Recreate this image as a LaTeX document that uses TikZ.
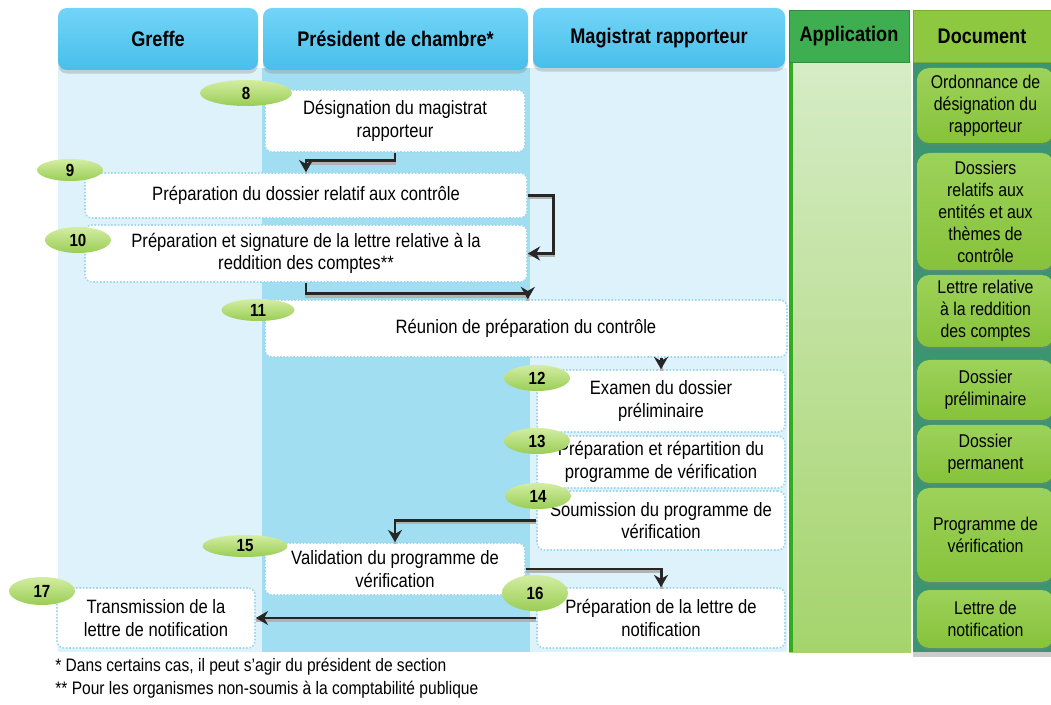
\documentclass[tikz,border=0pt]{standalone}
\usepackage{fontspec}
\setmainfont{Liberation Sans}[FakeStretch=0.86]
\usetikzlibrary{arrows.meta,shapes.geometric,shadows}
\definecolor{laneA}{HTML}{DDF2FA}
\definecolor{laneB}{HTML}{A2DEF2}
\definecolor{headT}{HTML}{72D4F7}
\definecolor{headB}{HTML}{48BFEA}
\definecolor{boxline}{HTML}{9ED6EE}
\definecolor{appT}{HTML}{D6ECC6}
\definecolor{appB}{HTML}{A5D46C}
\definecolor{appHead}{HTML}{3FAE50}
\definecolor{docHead}{HTML}{8DC840}
\definecolor{docBg}{HTML}{3A9570}
\definecolor{docT}{HTML}{9DD25A}
\definecolor{docB}{HTML}{86C23A}
\definecolor{ovalT}{HTML}{D3EDA2}
\definecolor{ovalB}{HTML}{9ACD55}

\begin{document}
\begin{tikzpicture}[x=0.02cm,y=-0.02cm,
  font=\fontsize{11}{12.8}\selectfont,
  sz/.style 2 args={minimum width=#1*0.02cm,minimum height=#2*0.02cm},
  head/.style={rounded corners=5pt,top color=headT,bottom color=headB,inner sep=0pt,
    drop shadow={opacity=.3,shadow xshift=0pt,shadow yshift=-2pt},
    font=\fontsize{12}{14}\selectfont\bfseries},
  box/.style={draw=boxline,densely dotted,line width=.9pt,fill=white,
    rounded corners=4pt,inner sep=0pt,align=center},
  num/.style={ellipse,top color=ovalT,bottom color=ovalB,inner sep=0pt,sz={66}{26},
    font=\fontsize{10}{12}\selectfont\bfseries},
  doc/.style={rounded corners=7pt,top color=docT,bottom color=docB,inner sep=0pt,
    align=center,font=\fontsize{10.5}{12.5}\selectfont,
    drop shadow={opacity=.35,shadow xshift=0pt,shadow yshift=-1.5pt}},
  flow/.style={draw=black!85,line width=1.7pt,-{Stealth[length=7pt,width=8pt]},
    preaction={draw=gray!60,line width=1.7pt,-,transform canvas={yshift=-1.3pt}}},
  note/.style={anchor=west,inner sep=0pt,font=\fontsize{10.3}{12}\selectfont}]
  \useasboundingbox (0,0) rectangle (1051,705);
  % 泳道背景
  \fill[laneA] (58,68) rectangle (262,652);
  \fill[laneB] (262,68) rectangle (530,652);
  \fill[laneA] (530,68) rectangle (787,652);
  \fill[top color=appT,bottom color=appB] (789,62) rectangle (911,652);
  \fill[green!60!black!70!appB] (789,62) rectangle (793,652);
  \fill[docBg,drop shadow={opacity=.4,shadow xshift=0pt,shadow yshift=-3pt}] (913,62) rectangle (1051,652);
  % 表头
  \node[head,sz={200}{62}] (hG) at (158,39) {Greffe};
  \node[head,sz={265}{62}] (hP) at (395.5,39) {Président de chambre*};
  \node[head,sz={252}{60}] (hM) at (659,38) {Magistrat rapporteur};
  \node[fill=appHead,draw=appHead!80!black,inner sep=0pt,sz={120}{52},
    font=\fontsize{12}{14}\selectfont\bfseries] (hA) at (849,36) {Application};
  \node[fill=docHead,draw=docHead!85!black,inner sep=0pt,sz={138}{52},
    font=\fontsize{12}{14}\selectfont\bfseries] (hD) at (982,36) {Document};
  % 步骤
  \node[box,sz={260}{62}] (b8) at (395,121) {Désignation du magistrat\\rapporteur};
  \node[box,sz={442}{45}] (b9) at (306,195.5) {Préparation du dossier relatif aux contrôle};
  \node[box,sz={442}{57}] (b10) at (306,253.5) {Préparation et signature de la lettre relative à la\\reddition des comptes**};
  \node[box,sz={522}{57}] (b11) at (526,328.5) {Réunion de préparation du contrôle};
  \node[box,sz={248}{62}] (b12) at (661,401) {Examen du dossier\\préliminaire};
  \node[box,sz={248}{52}] (b13) at (661,462) {Préparation et répartition du\\programme de vérification};
  \node[box,sz={248}{59}] (b14) at (661,520.5) {Soumission du programme de\\vérification};
  \node[box,sz={260}{52}] (b15) at (395,569) {Validation du programme de\\vérification};
  \node[box,sz={248}{60}] (b16) at (661,618) {Préparation de la lettre de\\notification};
  \node[box,sz={198}{60}] (b17) at (156,618) {Transmission de la\\lettre de notification};
  % 箭头
  \draw[flow] (b8.south) -- ++(0,8) -| (b9.north);
  \draw[flow] (b9.east) -- ++(26,0) |- (b10.east);
  \draw[flow] (b10.south) -- ++(0,11) -| (b11.north -| b10.east);
  \draw[flow] (b11.south -| b12.north) -- (b12.north);
  \draw[flow] (b14.west) -| (b15.north);
  \draw[flow] (b15.east) -| (b16.north);
  \draw[flow] (b16.west) -- (b17.east);
  % 编号
  \node[num,sz={92}{26}] (n8) at (246,93) {8};
  \node[num,sz={66}{22}] (n9) at (70,170) {9};
  \node[num] (n10) at (78,240) {10};
  \node[num,sz={73}{22}] (n11) at (258,310) {11};
  \node[num] (n12) at (537,378) {12};
  \node[num] (n13) at (537,441) {13};
  \node[num] (n14) at (538,496) {14};
  \node[num,sz={85}{22}] (n15) at (245,546) {15};
  \node[num,sz={66}{36}] (n16) at (535,593) {16};
  \node[num,sz={66}{28}] (n17) at (42,591) {17};
  % 文件
  \node[doc,sz={137}{75}] (d1) at (985.5,105.5) {Ordonnance de\\désignation du\\rapporteur};
  \node[doc,sz={137}{117}] (d2) at (985.5,211.5) {Dossiers\\relatifs aux\\entités et aux\\thèmes de\\contrôle};
  \node[doc,sz={137}{72}] (d3) at (985.5,311) {Lettre relative\\à la reddition\\des comptes};
  \node[doc,sz={137}{60}] (d4) at (985.5,390) {Dossier\\préliminaire};
  \node[doc,sz={137}{58}] (d5) at (985.5,454) {Dossier\\permanent};
  \node[doc,sz={137}{94}] (d6) at (985.5,535) {Programme de\\vérification};
  \node[doc,sz={137}{58}] (d7) at (985.5,619) {Lettre de\\notification};
  \node[note] (f1) at (55,667) {* Dans certains cas, il peut s’agir du président de section};
  \node[note] (f2) at (55,690) {** Pour les organismes non-soumis à la comptabilité publique};
\end{tikzpicture}
\end{document}
